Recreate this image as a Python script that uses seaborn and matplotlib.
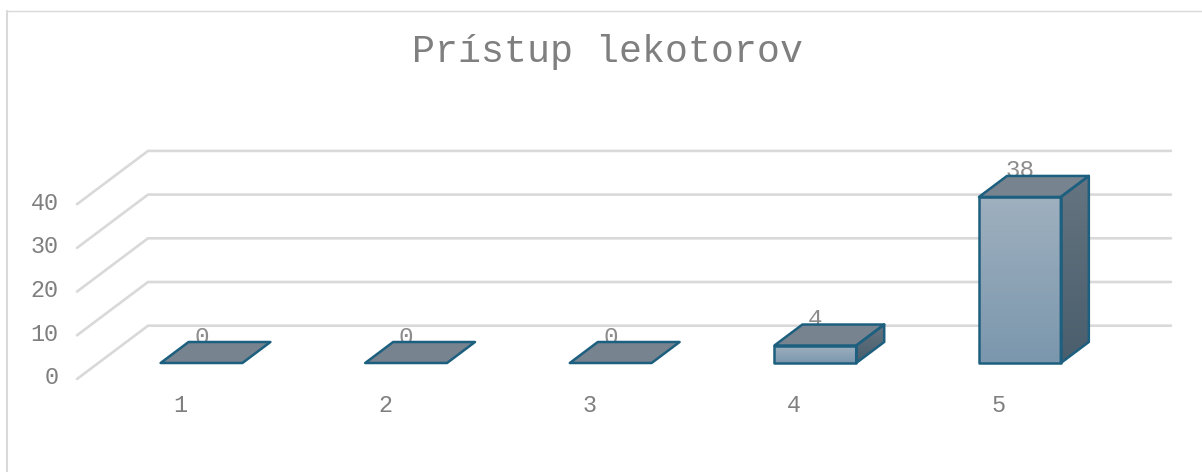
import numpy as np
import pandas as pd
import matplotlib.pyplot as plt
import seaborn as sns
from matplotlib.patches import Polygon

# values
categories = ["1", "2", "3", "4", "5"]
counts = [0, 0, 0, 4, 38]
y_ticks = [0, 10, 20, 30, 40]
title = "Prístup lekotorov"

W, H = 1202, 472
SLOT = 204.6      # px between bars
UNIT = 4.37       # px per count
X0, Y0 = 201.5, 363   # px position of first bar center / bar floor
BAR_DEPTH = (28, 21)
EDGE = "#1d5f7f"
GRID = "#d9d9d9"
TEXT = "#7f7f7f"

sns.set_theme(style="white")
plt.rcParams["font.family"] = ["Liberation Mono", "DejaVu Sans"]

fig = plt.figure(figsize=(W / 100, H / 100), dpi=100)
ax = fig.add_axes([0, 0, 1, 1])

df = pd.DataFrame({"cat": categories, "count": counts})
sns.barplot(data=df, x="cat", y="count", color="#9fb0bf", width=0.4, saturation=1,
            linewidth=0, ax=ax, zorder=3)

# axes fill the figure so offsets below can be given in pixels
ax.set_xlim(-X0 / SLOT, (W - X0) / SLOT)
ax.set_ylim((Y0 - H) / UNIT, Y0 / UNIT)
ax.axis("off")


def dx(px):
    return px / SLOT


def dy(px):
    return px / UNIT


def gradient(poly, top, bottom, zorder):
    xy = poly.get_xy()
    colors = np.array([plt.matplotlib.colors.to_rgb(top), plt.matplotlib.colors.to_rgb(bottom)])
    t = np.linspace(0, 1, 64)[:, None]
    img = (colors[0] * (1 - t) + colors[1] * t)[:, None, :]
    im = ax.imshow(img, extent=[xy[:, 0].min(), xy[:, 0].max(), xy[:, 1].min(), xy[:, 1].max()],
                   aspect="auto", origin="upper", zorder=zorder)
    ax.add_patch(poly)
    im.set_clip_path(poly)


# grid: back wall + floor diagonal
back_right = (1171 - X0) / SLOT
back_left = (148 - X0) / SLOT
back_lift = dy(Y0 - 325.7)
front_x = (77 - X0) / SLOT
front_drop = dy(379 - Y0)
for v in y_ticks:
    ax.plot([front_x, back_left, back_right],
            [v - front_drop, v + back_lift, v + back_lift],
            color=GRID, lw=1.9, zorder=1, solid_joinstyle="miter")
    ax.text((58.7 - X0) / SLOT, v - front_drop + dy(1), str(v), ha="right", va="center",
            fontsize=16.8, color=TEXT, zorder=2)

ddx, ddy = dx(BAR_DEPTH[0]), dy(BAR_DEPTH[1])
bars = list(ax.patches)
for bar, v, cat in zip(bars, counts, categories):
    x0 = bar.get_x()
    x1 = x0 + bar.get_width()
    xc = (x0 + x1) / 2
    ax.text(xc, v + dy(26), str(v), ha="center", va="center", fontsize=17.4,
            color="#8c8c8c", zorder=4)
    ax.text(xc - dx(21), -dy(42), cat, ha="center", va="center", fontsize=16.8,
            color=TEXT, zorder=4)

    bar.set_visible(False)
    if v > 0:
        front = Polygon([(x0, 0), (x1, 0), (x1, v), (x0, v)], closed=True, fill=False,
                        edgecolor=EDGE, lw=1.8, joinstyle="round", zorder=8)
        gradient(front, "#9fb0bf", "#7b97ad", 6)
        side = Polygon([(x1, 0), (x1 + ddx, ddy), (x1 + ddx, v + ddy), (x1, v)], closed=True,
                       fill=False, edgecolor=EDGE, lw=1.8, joinstyle="round", zorder=8)
        gradient(side, "#657480", "#4a5e6d", 6)
    top = Polygon([(x0, v), (x1, v), (x1 + ddx, v + ddy), (x0 + ddx, v + ddy)], closed=True,
                  facecolor="#77838f", edgecolor=EDGE, lw=1.8, joinstyle="round", zorder=7)
    ax.add_patch(top)

ax.set_xlim(-X0 / SLOT, (W - X0) / SLOT)
ax.set_ylim((Y0 - H) / UNIT, Y0 / UNIT)

# title and chart frame
fig.text(607.7 / W, 1 - 52 / H, title, ha="center", va="center", fontsize=27.5, color=TEXT)
fig.add_artist(plt.Line2D([6.8 / W, 6.8 / W], [0, 1 - 11 / H], color=GRID, lw=1.5))
fig.add_artist(plt.Line2D([6.8 / W, 1], [1 - 11 / H, 1 - 11 / H], color=GRID, lw=1.0))

fig.savefig("out.png", dpi=100)
